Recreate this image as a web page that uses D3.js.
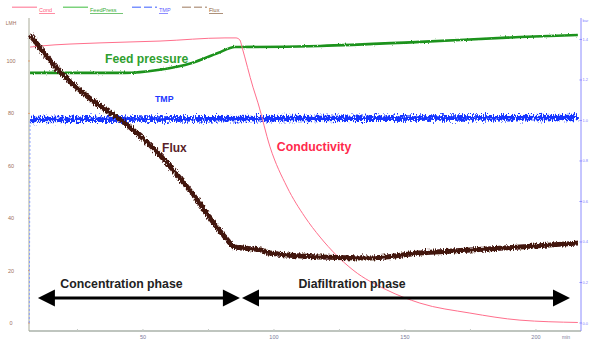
<!DOCTYPE html>
<html>
<head>
<meta charset="utf-8">
<script src="https://cdn.jsdelivr.net/npm/d3@7"></script>
<style>
  html, body { margin: 0; padding: 0; background: #fff; }
  svg { display: block; }
</style>
</head>
<body>
<div id="chart"></div>
<script>
// ---------------- data ----------------
var seriesNames = ["Cond", "FeedPress", "TMP", "Flux"];

// flux, LMH (left axis)
var timeFlux = [6.9, 17.6, 30.5, 43.1, 55.7, 68.7, 81.3, 85.1, 94.7, 98.5, 117.6, 136.6, 155.7, 174.8, 193.9, 216];
var flux     = [110, 96.6, 85.1, 76.3, 64.9, 49.6, 32.8, 29.0, 27.9, 26.7, 25.2, 24.8, 26.7, 27.9, 29.0, 30.5];

// conductivity (left axis)
var timeCond = [6.9, 10.7, 33.6, 56.5, 81.3, 85.5, 87.0, 87.8, 92.0, 93.9, 98.5, 105, 111.8, 117.6, 130.2, 143.1, 155.7, 174.8, 193.9, 216];
var cond     = [105.3, 105.7, 106.9, 107.6, 108.8, 108.8, 108.0, 105.3, 90, 84, 67.2, 51.9, 40.5, 32.8, 20.2, 12.6, 7.6, 3.8, 1.1, 0.2];

// feed pressure, bar (right axis)
var timeFeed = [6.9, 43.1, 55.7, 68.7, 78.6, 85.1, 85.9, 117.6, 155.7, 193.9, 216];
var feed     = [1.235, 1.235, 1.249, 1.284, 1.333, 1.363, 1.363, 1.368, 1.388, 1.412, 1.422];

// TMP, bar (right axis)
var timeTmp = [6.6, 6.9, 110, 216];
var tmp     = [0, 1.005, 1.01, 1.015];

// ticks
var xTicks      = [50, 100, 150, 200];
var xMinorTicks = [25, 75, 125, 175];
var leftTicks   = [0, 20, 40, 60, 80, 100];
var rightTicks  = [0, 0.2, 0.4, 0.6, 0.8, 1.0, 1.2, 1.4];

// annotations: [text, time, value on left axis]
var seriesLabels = [
    ["Feed pressure", 35.5, 99.2],
    ["TMP", 54.6, 84.4],
    ["Flux", 57.3, 65.3],
    ["Conductivity", 101.1, 65.6]
];
// phases: [text, start, end, label centre]
var phases = [
    ["Concentration phase", 9.9, 87.0, 41.8],
    ["Diafiltration phase", 87.8, 213, 129.8]
];
var phaseLevel = 9.5;

// ---------------- chart ----------------
var attrs = {
    svgWidth: 589,
    svgHeight: 340,
    plotLeft: 29,
    plotRight: 581,
    plotTop: 18,
    plotBottom: 331,
    font: "'Liberation Sans', Arial, sans-serif",
    colors: { Cond: "#ff6f8c", FeedPress: "#1a921a", TMP: "#1436ff", Flux: "#43150d" },
    legendLine: { Cond: "#ff86a0", FeedPress: "#5cc85c", TMP: "#5a78ff", Flux: "#ad9078" },
    legendText: { Cond: "#ff5c7c", FeedPress: "#3aad3a", TMP: "#5c5cff", Flux: "#8a6040" }
};

var x = d3.scaleLinear().domain([6.5, 217.2]).range([attrs.plotLeft, attrs.plotRight]);
var yL = d3.scaleLinear().domain([-3.05, 116.4]).range([attrs.plotBottom, attrs.plotTop]);
var yR = d3.scaleLinear().domain([-0.0395, 1.506]).range([attrs.plotBottom, attrs.plotTop]);

var svg = d3.select("#chart").append("svg")
    .attr("width", attrs.svgWidth)
    .attr("height", attrs.svgHeight)
    .attr("font-family", attrs.font);

var defs = svg.append("defs");
// jitter filter gives the noisy sensor look without touching the data
function jitter(id, freq, scale, seed) {
    var f = defs.append("filter").attr("id", id)
        .attr("filterUnits", "userSpaceOnUse")
        .attr("x", 0).attr("y", 0).attr("width", attrs.svgWidth).attr("height", attrs.svgHeight);
    f.append("feTurbulence").attr("type", "fractalNoise")
        .attr("baseFrequency", freq).attr("numOctaves", 1).attr("seed", seed).attr("result", "n");
    f.append("feDisplacementMap").attr("in", "SourceGraphic").attr("in2", "n")
        .attr("scale", scale).attr("xChannelSelector", "R").attr("yChannelSelector", "G");
}
jitter("jitTmp", "0.9 0.4", 12, 2);
jitter("jitFlux", "0.9 0.4", 6, 5);
jitter("jitFeed", "0.9 0.4", 2.5, 7);

// axes lines
svg.append("line")
    .attr("x1", attrs.plotLeft).attr("x2", attrs.plotRight)
    .attr("y1", attrs.plotBottom).attr("y2", attrs.plotBottom)
    .attr("stroke", "#aab2aa").attr("stroke-width", 1.6);
svg.append("line")
    .attr("x1", attrs.plotLeft).attr("x2", attrs.plotLeft)
    .attr("y1", attrs.plotTop).attr("y2", attrs.plotBottom)
    .attr("stroke", "#a9ab98").attr("stroke-width", 1);
svg.append("line")
    .attr("x1", attrs.plotRight).attr("x2", attrs.plotRight)
    .attr("y1", attrs.plotTop).attr("y2", attrs.plotBottom)
    .attr("stroke", "#8c8cff").attr("stroke-width", 1);

// x axis
var xAxis = svg.append("g").attr("transform", "translate(0," + attrs.plotBottom + ")");
xAxis.selectAll(".minor").data(xMinorTicks).enter().append("line")
    .attr("x1", d => x(d)).attr("x2", d => x(d))
    .attr("y1", -2).attr("y2", 0).attr("stroke", "#c4c8c4");
xAxis.selectAll(".major").data(xTicks).enter().append("line")
    .attr("x1", d => x(d)).attr("x2", d => x(d))
    .attr("y1", -2).attr("y2", 1).attr("stroke", "#c4c8c4");
xAxis.selectAll("text").data(xTicks).enter().append("text")
    .attr("x", d => x(d)).attr("y", 7.5)
    .attr("text-anchor", "middle").attr("font-size", 5.5).attr("fill", "#7a7a9a")
    .text(d => d);
xAxis.append("text").attr("x", 566).attr("y", 7.5)
    .attr("text-anchor", "middle").attr("font-size", 5).attr("fill", "#7a7a9a").text("min");

// left axis
var leftAxis = svg.append("g");
leftAxis.selectAll("line").data(leftTicks).enter().append("line")
    .attr("x1", attrs.plotLeft - 1).attr("x2", attrs.plotLeft + 1)
    .attr("y1", d => yL(d)).attr("y2", d => yL(d)).attr("stroke", "#e0a070");
leftAxis.selectAll("text").data(leftTicks).enter().append("text")
    .attr("x", 11).attr("y", d => yL(d) + 2)
    .attr("text-anchor", "middle").attr("font-size", 5.5).attr("fill", "#a0705a")
    .text(d => d);
leftAxis.append("text").attr("x", 11).attr("y", 25)
    .attr("text-anchor", "middle").attr("font-size", 5).attr("fill", "#a0705a").text("LMH");

// right axis (narrow margin, so the labels are tiny)
var rightAxis = svg.append("g");
rightAxis.selectAll("line").data(rightTicks).enter().append("line")
    .attr("x1", attrs.plotRight - 1.5).attr("x2", attrs.plotRight + 1)
    .attr("y1", d => yR(d)).attr("y2", d => yR(d)).attr("stroke", "#8c8cff");
rightAxis.selectAll("text").data(rightTicks).enter().append("text")
    .attr("x", attrs.plotRight + 1.5).attr("y", d => yR(d) + 1.5)
    .attr("font-size", 4).attr("fill", "#7f7fff")
    .text(d => d3.format(".1f")(d));
rightAxis.append("text").attr("x", attrs.plotRight + 1.5).attr("y", 22)
    .attr("font-size", 4).attr("fill", "#7f7fff").text("bar");

// series
function pts(t, v) { return t.map((d, i) => [d, v[i]]); }
var plot = svg.append("g");

var leftLine = d3.line().x(d => x(d[0])).y(d => yL(d[1])).curve(d3.curveMonotoneX);
var rightLine = d3.line().x(d => x(d[0])).y(d => yR(d[1])).curve(d3.curveMonotoneX);

// TMP start-up trace along the axis (dashed), then noisy band
plot.append("path").datum(pts(timeTmp.slice(0, 2), tmp.slice(0, 2)))
    .attr("d", d3.line().x(d => x(d[0])).y(d => yR(d[1])))
    .attr("fill", "none").attr("stroke", "#8aa0ff").attr("stroke-width", 1)
    .attr("stroke-dasharray", "2,2");
plot.append("path").datum(pts(timeTmp.slice(1), tmp.slice(1)))
    .attr("d", rightLine)
    .attr("fill", "none").attr("stroke", attrs.colors.TMP).attr("stroke-width", 5.5)
    .attr("filter", "url(#jitTmp)");

plot.append("path").datum(pts(timeFeed, feed))
    .attr("d", rightLine)
    .attr("fill", "none").attr("stroke", attrs.colors.FeedPress).attr("stroke-width", 2.6)
    .attr("filter", "url(#jitFeed)");

plot.append("path").datum(pts(timeCond, cond))
    .attr("d", leftLine)
    .attr("fill", "none").attr("stroke", attrs.colors.Cond).attr("stroke-width", 1);

plot.append("path").datum(pts(timeFlux, flux))
    .attr("d", leftLine)
    .attr("fill", "none").attr("stroke", attrs.colors.Flux).attr("stroke-width", 5)
    .attr("filter", "url(#jitFlux)");

// series annotations
var labelColors = { "Feed pressure": "#2f9f2f", "TMP": "#2236ff", "Flux": "#5a1f2a", "Conductivity": "#ff2a4c" };
var labelSizes = { "Feed pressure": 12.2, "TMP": 8.8, "Flux": 12, "Conductivity": 12.3 };
svg.selectAll(".seriesLabel").data(seriesLabels).enter().append("text")
    .attr("class", "seriesLabel")
    .attr("x", d => x(d[1])).attr("y", d => yL(d[2]))
    .attr("font-size", d => labelSizes[d[0]]).attr("font-weight", "bold")
    .attr("fill", d => labelColors[d[0]])
    .text(d => d[0]);

// phase arrows
var head = 17, half = 8.5;
var arrows = svg.selectAll(".phase").data(phases).enter().append("g").attr("class", "phase");
arrows.append("line")
    .attr("x1", d => x(d[1]) + head - 2).attr("x2", d => x(d[2]) - head + 2)
    .attr("y1", yL(phaseLevel)).attr("y2", yL(phaseLevel))
    .attr("stroke", "#000").attr("stroke-width", 3);
arrows.append("path")
    .attr("d", d => {
        var y0 = yL(phaseLevel), a = x(d[1]), b = x(d[2]);
        return "M" + a + "," + y0 + "L" + (a + head) + "," + (y0 - half) + "L" + (a + head) + "," + (y0 + half) + "Z" +
               "M" + b + "," + y0 + "L" + (b - head) + "," + (y0 - half) + "L" + (b - head) + "," + (y0 + half) + "Z";
    })
    .attr("fill", "#000");
arrows.append("text")
    .attr("x", d => x(d[3]))
    .attr("y", yL(phaseLevel) - 10)
    .attr("text-anchor", "middle").attr("font-size", 12.3).attr("font-weight", "bold")
    .attr("fill", "#222")
    .text(d => d[0]);

// legend
var legendX = [12, 63, 132, 182];
var legendTextW = [16, 33, 9, 14];
var legend = svg.selectAll(".legend").data(seriesNames).enter().append("g")
    .attr("class", "legend")
    .attr("transform", (d, i) => "translate(" + legendX[i] + ",0)");
legend.append("rect")
    .attr("x", 0).attr("y", 6.6).attr("width", 25).attr("height", 1.2)
    .attr("fill", d => attrs.legendLine[d]);
legend.filter(d => d === "TMP" || d === "Flux").selectAll(".gap")
    .data([9, 20]).enter().append("rect")
    .attr("x", d => d).attr("y", 6).attr("width", 3).attr("height", 2.4)
    .attr("fill", "#fff");
legend.append("text")
    .attr("x", 27).attr("y", 12)
    .attr("font-size", 5.5).attr("fill", d => attrs.legendText[d])
    .text(d => d);
legend.append("rect")
    .attr("x", 27).attr("y", 13).attr("width", (d, i) => legendTextW[i]).attr("height", 0.7)
    .attr("fill", d => attrs.legendText[d]);
</script>
</body>
</html>
